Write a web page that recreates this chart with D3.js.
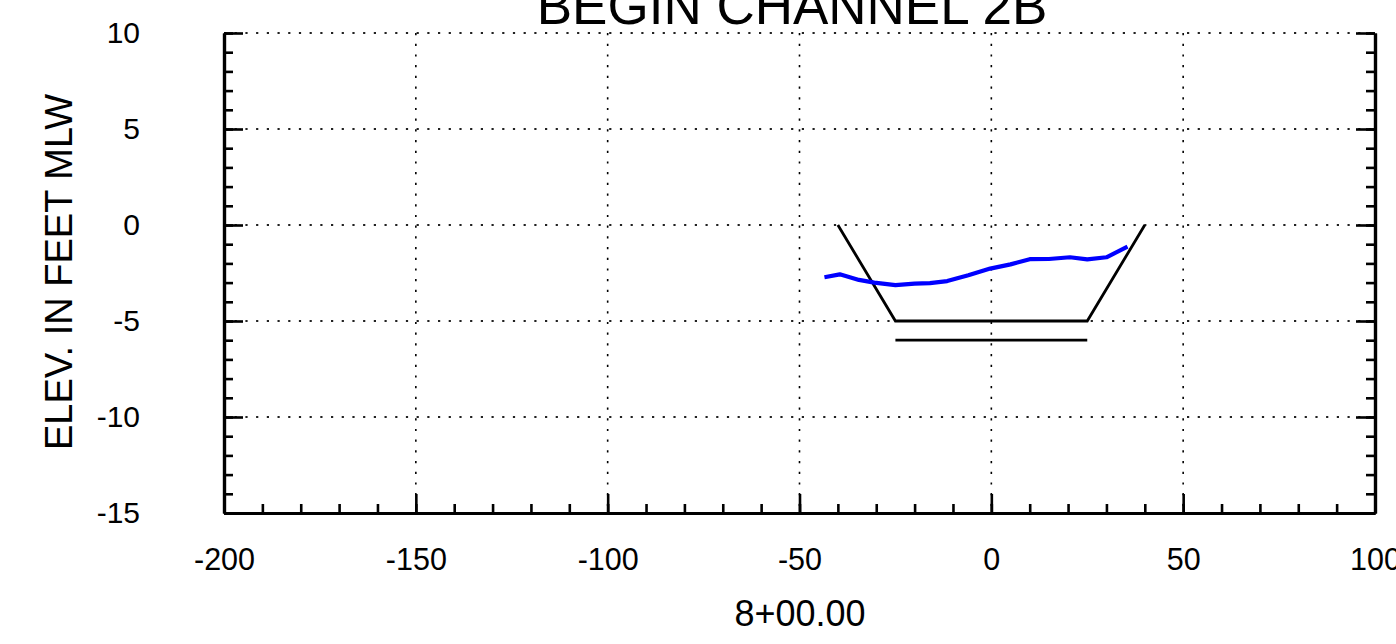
<!DOCTYPE html>
<html>
<head>
<meta charset="utf-8">
<script src="https://cdn.jsdelivr.net/npm/d3@7"></script>
<style>
  html, body { margin: 0; padding: 0; background: #fff; }
  svg { display: block; font-family: "Liberation Sans", Arial, sans-serif; }
</style>
</head>
<body>
<svg id="chart" width="1396" height="644"></svg>
<script>
// ---- data ----
const title = "BEGIN CHANNEL 2B";
const xLabel = "8+00.00";
const yLabel = "ELEV. IN FEET MLW";
const xTicks = [-200, -150, -100, -50, 0, 50, 100];
const yTicks = [-15, -10, -5, 0, 5, 10];
// design template (channel section)
const templateX = [-40, -25, 25, 40];
const templateY = [0, -5, -5, 0];
// overdredge line
const overX = [-25, 25];
const overY = [-6, -6];
// survey profile
const surveyX = [-43.5, -39.5, -34.5, -30.5, -25, -20, -16, -11.5, -6, -0.3, 5, 10, 15, 20.5, 25, 30, 35.5];
const surveyY = [-2.72, -2.57, -2.86, -3.0, -3.13, -3.05, -3.03, -2.92, -2.62, -2.27, -2.05, -1.78, -1.77, -1.68, -1.79, -1.68, -1.13];

// ---- layout ----
const svg = d3.select("#chart");
const x = d3.scaleLinear().domain([-200, 100]).range([224, 1375]);
const y = d3.scaleLinear().domain([-15, 10]).range([513, 33]);
const x0 = x.range()[0], x1 = x.range()[1];
const yB = y.range()[0], yT = y.range()[1];
const fmt = d => String(d);

// gridlines
const grid = svg.append("g");
grid.selectAll("line.h").data(yTicks.filter(v => v > -15)).join("line")
  .attr("x1", x0).attr("x2", x1)
  .attr("y1", d => y(d)).attr("y2", d => y(d))
  .attr("stroke", "#222").attr("stroke-width", 1.8)
  .attr("stroke-dasharray", "2.2,8.5");
grid.selectAll("line.v").data(xTicks.filter(v => v > -200 && v < 100)).join("line")
  .attr("x1", d => x(d)).attr("x2", d => x(d))
  .attr("y1", yT).attr("y2", yB)
  .attr("stroke", "#000").attr("stroke-width", 1.6)
  .attr("stroke-dasharray", "2.2,8.5");

// minor ticks
const xMinor = d3.range(-200, 101, 10);
const yMinor = d3.range(-15, 11, 1);
function styleAxis(g) {
  g.select(".domain").attr("stroke", "#000").attr("stroke-width", 3.2);
  g.selectAll(".tick line").attr("stroke", "#000").attr("stroke-width", 2.6);
}
svg.append("g").attr("transform", `translate(${x0},0)`)
  .call(d3.axisLeft(y).tickValues(yMinor).tickSize(-9).tickSizeOuter(0).tickFormat(""))
  .call(styleAxis);
svg.append("g").attr("transform", `translate(${x1},0)`)
  .call(d3.axisRight(y).tickValues(yMinor).tickSize(-9).tickSizeOuter(0).tickFormat(""))
  .call(styleAxis);
svg.append("g").attr("transform", `translate(0,${yB})`)
  .call(d3.axisBottom(x).tickValues(xMinor).tickSize(-9).tickSizeOuter(0).tickFormat(""))
  .call(styleAxis);

// major ticks + labels
const gl = svg.append("g").attr("transform", `translate(${x0},0)`)
  .call(d3.axisLeft(y).tickValues(yTicks).tickSize(-19).tickSizeOuter(0).tickPadding(84).tickFormat(fmt))
  .call(styleAxis);
gl.selectAll("text").attr("font-size", 30).attr("fill", "#000").attr("font-family", "Liberation Sans, Arial, sans-serif");
svg.append("g").attr("transform", `translate(${x1},0)`)
  .call(d3.axisRight(y).tickValues(yTicks).tickSize(-19).tickSizeOuter(0).tickFormat(""))
  .call(styleAxis);
const gb = svg.append("g").attr("transform", `translate(0,${yB})`)
  .call(d3.axisBottom(x).tickValues(xTicks).tickSize(-19).tickSizeOuter(0).tickPadding(35).tickFormat(fmt))
  .call(styleAxis);
gb.selectAll("text").attr("font-size", 30.5).attr("fill", "#000").attr("font-family", "Liberation Sans, Arial, sans-serif");

// lines
const line = d3.line().x(d => x(d[0])).y(d => y(d[1]));
svg.append("path").datum(templateX.map((v, i) => [v, templateY[i]]))
  .attr("d", line).attr("fill", "none").attr("stroke", "#000").attr("stroke-width", 2.8);
svg.append("path").datum(overX.map((v, i) => [v, overY[i]]))
  .attr("d", line).attr("fill", "none").attr("stroke", "#000").attr("stroke-width", 2.8);
svg.append("path").datum(surveyX.map((v, i) => [v, surveyY[i]]))
  .attr("d", line).attr("fill", "none").attr("stroke", "#0000ff").attr("stroke-width", 4.2)
  .attr("stroke-linejoin", "round");

// texts
svg.append("text").attr("x", 792).attr("y", 24).attr("text-anchor", "middle")
  .attr("font-size", 53).text(title);
svg.append("text").attr("x", 800).attr("y", 626).attr("text-anchor", "middle")
  .attr("font-size", 36).text(xLabel);
svg.append("text").attr("transform", "translate(72,272) rotate(-90)").attr("text-anchor", "middle")
  .attr("font-size", 38).text(yLabel);
</script>
</body>
</html>
